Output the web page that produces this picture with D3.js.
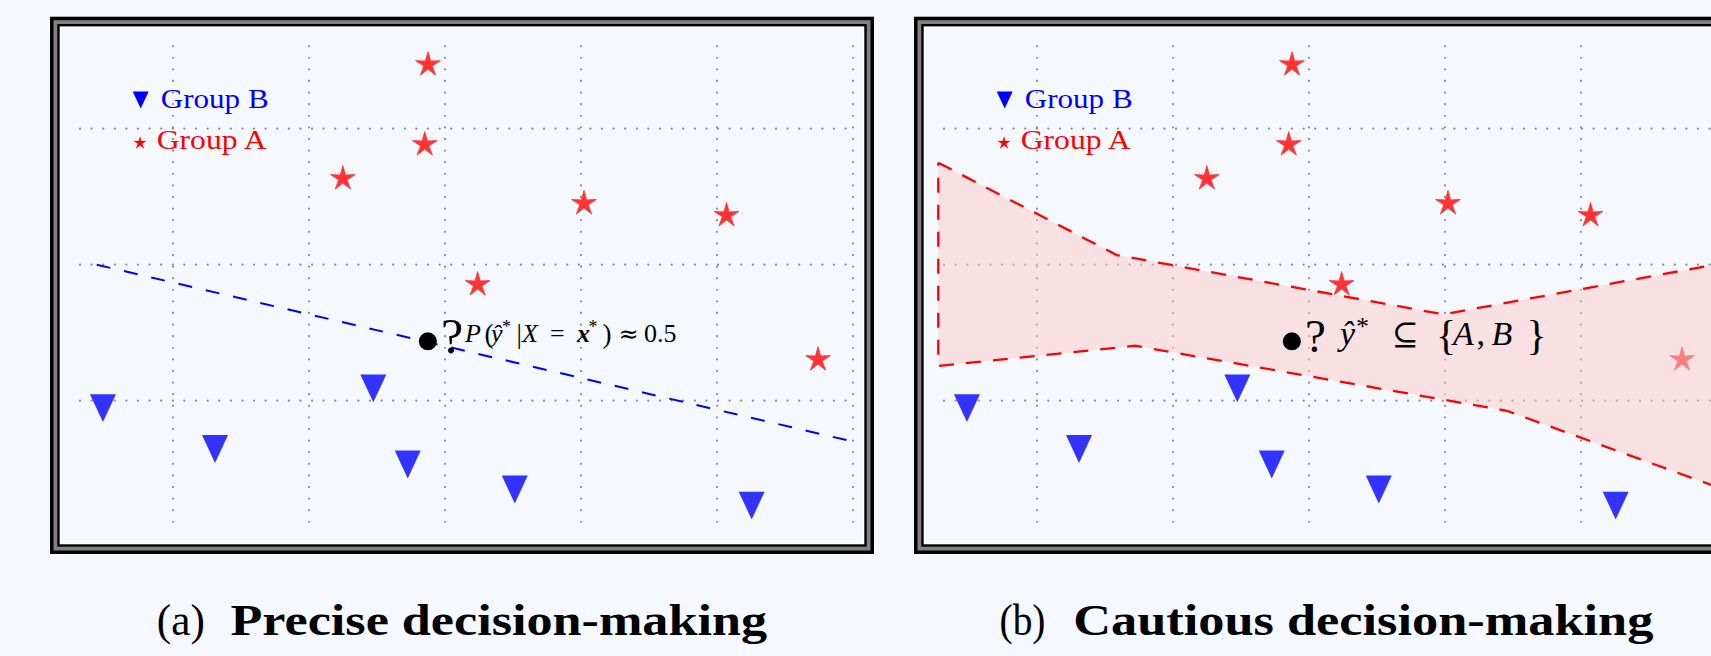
<!DOCTYPE html>
<html><head><meta charset="utf-8">
<script src="https://cdn.jsdelivr.net/npm/d3@7"></script>
<style>html,body{margin:0;padding:0;background:#f5f9ff;} svg{display:block;}</style>
</head><body>
<svg id="chart" width="1711" height="656"></svg>
<script>
// ---------------- data ----------------
const xTicks = [1, 2, 3, 4, 5, 6];
const yTicks = [1, 2, 3];
const groupAX = [2.875, 2.851, 2.249, 4.022, 5.070, 3.240, 5.743];
const groupAY = [3.471, 2.883, 2.633, 2.450, 2.362, 1.854, 1.302];
const groupBX = [0.485, 1.309, 2.473, 2.726, 3.513, 5.255];
const groupBY = [0.946, 0.645, 1.090, 0.531, 0.347, 0.229];
const boundaryX = [0.439, 6.002];
const boundaryY = [2.000, 0.699];
const bandUpperX = [0.274, 1.586, 3.988, 5.978];
const bandUpperY = [2.750, 2.071, 1.635, 1.999];
const bandLowerX = [0.274, 1.721, 4.454, 5.978];
const bandLowerY = [1.255, 1.404, 0.926, 0.373];
const queryX = [2.874];
const queryY = [1.437];
const legendLabels = ["Group B", "Group A"];
const captionTags = ["(a)", "(b)"];
const captionTitles = ["Precise decision-making", "Cautious decision-making"];

// ---------------- setup ----------------
const svg = d3.select("#chart");
const BG = "#f5f9ff";
const x = d3.scaleLinear().domain([0, 6]).range([37, 853]);
const y = d3.scaleLinear().domain([0, 3]).range([536.7, 128.7]);
const gridX0 = 0.316, gridY0 = 0.057, gridY1 = 3.607;
const panelOffsets = [0, 864];
const FONT = "'Liberation Serif', 'Times New Roman', serif";

const starType = {
  draw(ctx, size) {
    const r = Math.sqrt(size), ri = r * 0.34;
    for (let i = 0; i < 10; i++) {
      const a = -Math.PI / 2 + i * Math.PI / 5;
      const rr = i % 2 ? ri : r;
      const px = rr * Math.cos(a), py = rr * Math.sin(a);
      if (i === 0) ctx.moveTo(px, py); else ctx.lineTo(px, py);
    }
    ctx.closePath();
  }
};
const triType = {
  draw(ctx, size) {
    const w = size, h = size * 1.07;
    ctx.moveTo(-w / 2, -h / 2);
    ctx.lineTo(w / 2, -h / 2);
    ctx.lineTo(0, h / 2);
    ctx.closePath();
  }
};
const starPath = d3.symbol().type(starType).size(13 * 13);
const triPath = d3.symbol().type(triType).size(26);

const groupA = groupAX.map((v, i) => ({x: v, y: groupAY[i]}));
const groupB = groupBX.map((v, i) => ({x: v, y: groupBY[i]}));
const line = d3.line().x(d => x(d[0])).y(d => y(d[1]));

panelOffsets.forEach((off, p) => {
  const g = svg.append("g").attr("transform", `translate(${off},0)`);
  // frame
  const fx = 50, fy = 16.7, fw = 824, fh = 537.3;
  [[0, "#000"], [3.5, "#808080"], [7.3, "#000"], [9.7, "#ffffff"], [11, BG]].forEach(([ins, c]) => {
    g.append("rect").attr("x", fx + ins).attr("y", fy + ins)
      .attr("width", fw - 2 * ins).attr("height", fh - 2 * ins).attr("fill", c);
  });
  // grid
  const grid = g.append("g").attr("stroke", "#8f8f8f").attr("stroke-width", 2.2)
    .attr("stroke-linecap", "round").attr("stroke-dasharray", "0.1 11.5").attr("fill", "none");
  grid.selectAll("line.v").data(xTicks).join("line").attr("class", "v")
    .attr("x1", d => x(d)).attr("x2", d => x(d))
    .attr("y1", y(gridY1)).attr("y2", y(gridY0));
  grid.selectAll("line.h").data(yTicks).join("line").attr("class", "h")
    .attr("x1", x(gridX0)).attr("x2", x(6))
    .attr("y1", d => y(d)).attr("y2", d => y(d));

  // points
  g.selectAll("path.a").data(groupA).join("path").attr("class", "a")
    .attr("d", starPath).attr("transform", d => `translate(${x(d.x)},${y(d.y)})`)
    .attr("fill", "#ff3333").attr("stroke", "#ff3333").attr("stroke-width", 0.8)
    .attr("stroke-linejoin", "miter");
  g.selectAll("path.b").data(groupB).join("path").attr("class", "b")
    .attr("d", triPath).attr("transform", d => `translate(${x(d.x)},${y(d.y)})`)
    .attr("fill", "#3333ff");

  // legend
  g.append("path").attr("d", d3.symbol().type(triType).size(16)())
    .attr("transform", "translate(140.7,100)").attr("fill", "#0000ff");
  g.append("text").attr("x", 160.7).attr("y", 108.3).text(legendLabels[0])
    .attr("font-family", FONT).attr("font-size", 28).attr("fill", "#0000ff")
    .attr("textLength", 108).attr("lengthAdjust", "spacingAndGlyphs");
  g.append("path").attr("d", d3.symbol().type(starType).size(49)())
    .attr("transform", "translate(140,143)").attr("fill", "#ff0000");
  g.append("text").attr("x", 156.7).attr("y", 149.3).text(legendLabels[1])
    .attr("font-family", FONT).attr("font-size", 28).attr("fill", "#ff0000")
    .attr("textLength", 110).attr("lengthAdjust", "spacingAndGlyphs");

  if (p === 0) {
    g.append("path")
      .attr("d", line(boundaryX.map((v, i) => [v, boundaryY[i]])))
      .attr("fill", "none").attr("stroke", "#0000ff").attr("stroke-width", 2)
      .attr("stroke-dasharray", "14 14");
  } else {
    const poly = bandUpperX.map((v, i) => [v, bandUpperY[i]])
      .concat(bandLowerX.map((v, i) => [v, bandLowerY[i]]).reverse());
    g.append("path").attr("d", line(poly) + "Z")
      .attr("fill", "rgb(253,202,200)").attr("fill-opacity", 0.5).attr("stroke", "none");
    g.append("path").attr("d", line(poly.concat([poly[0]])))
      .attr("fill", "none").attr("stroke", "#ff0000").attr("stroke-width", 2.3)
      .attr("stroke-dasharray", "15 12");
  }

  // query point
  g.selectAll("circle.q").data(queryX).join("circle").attr("class", "q")
    .attr("cx", d => x(d)).attr("cy", (d, i) => y(queryY[i])).attr("r", 9).attr("fill", "#000");

  const put = (txt, px, py, size, opts = {}) => {
    const t = g.append("text").attr("x", px).attr("y", py).text(txt)
      .attr("font-family", opts.family || FONT).attr("font-size", size).attr("fill", "#000");
    if (opts.italic) t.attr("font-style", "italic");
    if (opts.bold) t.attr("font-weight", "bold");
    return t;
  };

  if (p === 0) {
    put("?", 441, 352.5, 50);
    const b = 341.7;
    put("P", 465, b, 26, {italic: true});
    put("(", 484.5, b + 1, 27);
    put("ŷ", 491, b, 26, {italic: true});
    put("*", 502, b - 9, 18);
    put("|", 516.5, b + 1, 27);
    put("X", 522, b, 26, {italic: true});
    put("=", 550, b, 26);
    put("x", 577, b, 26, {italic: true, bold: true});
    put("*", 588.5, b - 9, 18);
    put(")", 602.5, b + 1, 27);
    put("≈", 618.5, b, 24, {family: "'DejaVu Serif', serif"});
    put("0.5", 644, b, 26);
  } else {
    put("?", 441, 352.3, 47);
    const b = 344.5;
    put("ŷ", 476, b, 34, {italic: true});
    put("*", 492, b - 10, 26);
    put("⊆", 528, b, 32, {family: "'DejaVu Serif', serif"});
    put("{", 572, b + 4, 42);
    put("A", 589, b, 34, {italic: true});
    put(",", 612.5, b, 34);
    put("B", 627.5, b, 34, {italic: true});
    put("}", 662.5, b + 4, 42);
  }
});

// captions
const capTagX = [156.8, 999.5], capTagW = [48, 46];
const capTitleX = [230.5, 1073.3], capTitleW = [536.5, 580];
captionTags.forEach((c, i) => {
  svg.append("text").attr("x", capTagX[i]).attr("y", 635).text(c)
    .attr("font-family", FONT).attr("font-size", 44).attr("fill", "#000")
    .attr("textLength", capTagW[i]).attr("lengthAdjust", "spacingAndGlyphs");
  svg.append("text").attr("x", capTitleX[i]).attr("y", 635).text(captionTitles[i])
    .attr("font-family", FONT).attr("font-size", 44).attr("font-weight", "bold").attr("fill", "#000")
    .attr("textLength", capTitleW[i]).attr("lengthAdjust", "spacingAndGlyphs");
});
</script>
</body></html>
